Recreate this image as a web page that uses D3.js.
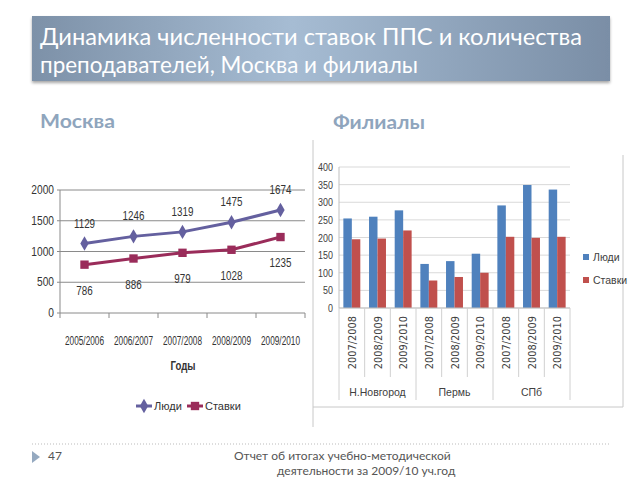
<!DOCTYPE html>
<html>
<head>
<meta charset="utf-8">
<script src="https://cdn.jsdelivr.net/npm/d3@7"></script>
<style>
body{margin:0;background:#fff}
svg{display:block}
.narrow{font-family:"Liberation Sans",Arial,sans-serif}
</style>
</head>
<body>
<div id="slide"></div>
<script>
// Москва
var years = ["2005/2006","2006/2007","2007/2008","2008/2009","2009/2010"]
var peopleMsk = [1129,1246,1319,1475,1674]
var ratesMsk = [786,886,979,1028,1235]
var mskTicks = [0,500,1000,1500,2000]

// Филиалы
var branchYears = ["2007/2008","2008/2009","2009/2010"]
var branches = ["Н.Новгород","Пермь","СПб"]
var peopleBr = [254,259,277, 125,133,154, 291,349,336]
var ratesBr = [195,197,220, 78,88,100, 202,199,202]
var brTicks = [0,50,100,150,200,250,300,350,400]

var seriesNames = ["Люди","Ставки"]

var svg = d3.select("#slide").append("svg").attr("width",640).attr("height",480)
var defs = svg.append("defs")

// title bar
var grad = defs.append("linearGradient").attr("id","bar").attr("x1","0").attr("x2","1").attr("y1","0").attr("y2","0")
grad.append("stop").attr("offset","0").attr("stop-color","#7d91a8")
grad.append("stop").attr("offset","0.45").attr("stop-color","#a6bcd3")
grad.append("stop").attr("offset","1").attr("stop-color","#7a8ea6")
var shadow = defs.append("filter").attr("id","shd").attr("x","-5%").attr("y","-10%").attr("width","110%").attr("height","140%")
shadow.append("feDropShadow").attr("dx",0).attr("dy",2).attr("stdDeviation",1.5).attr("flood-color","#000").attr("flood-opacity",0.35)

svg.append("rect").attr("x",32).attr("y",16).attr("width",578).attr("height",65)
    .attr("fill","url(#bar)").attr("filter","url(#shd)")
var titleLines = ["Динамика численности ставок ППС и количества","преподавателей, Москва и филиалы"]
var titleLen = [542,378]
svg.selectAll(".title").data(titleLines).enter().append("text")
    .attr("class","title")
    .attr("x",40).attr("y",function(d,i){return 45+i*28})
    .attr("fill","#fff").attr("font-family","Lato, 'Open Sans', sans-serif")
    .attr("font-size",23.5)
    .attr("textLength",function(d,i){return titleLen[i]}).attr("lengthAdjust","spacingAndGlyphs")
    .text(function(d){return d})

svg.append("text").attr("x",40).attr("y",128).text("Москва")
    .attr("fill","#8fa5bd").attr("font-weight","bold").attr("font-size",18.5)
    .attr("textLength",75).attr("lengthAdjust","spacingAndGlyphs")
    .attr("font-family","Lato, 'Open Sans', sans-serif")
svg.append("text").attr("x",333).attr("y",129).text("Филиалы")
    .attr("fill","#8fa5bd").attr("font-weight","bold").attr("font-size",18.5)
    .attr("textLength",92).attr("lengthAdjust","spacingAndGlyphs")
    .attr("font-family","Lato, 'Open Sans', sans-serif")

// ---------- left line chart ----------
var colPeople = "#64609f"
var colRates = "#9a2c5a"
var xL = d3.scaleBand().domain(years).range([60,305])
var yL = d3.scaleLinear().domain([0,2000]).range([313,190])
var gL = svg.append("g").attr("class","narrow")

gL.selectAll(".gridL").data(mskTicks).enter().append("line")
    .attr("x1",60).attr("x2",305)
    .attr("y1",function(d){return yL(d)}).attr("y2",function(d){return yL(d)})
    .attr("stroke","#8a8a8a").attr("stroke-width",1)
gL.append("line").attr("x1",60).attr("x2",60).attr("y1",190).attr("y2",313).attr("stroke","#8a8a8a")
gL.selectAll(".ytL").data(mskTicks).enter().append("line")
    .attr("x1",57).attr("x2",60)
    .attr("y1",function(d){return yL(d)}).attr("y2",function(d){return yL(d)})
    .attr("stroke","#8a8a8a")
gL.selectAll(".ylabL").data(mskTicks).enter().append("text")
    .attr("transform",function(d){return "translate(54,"+(yL(d)+4)+") scale(0.85,1)"})
    .attr("text-anchor","end").attr("font-size",12).attr("fill","#333")
    .text(function(d){return d})
gL.selectAll(".xtL").data(years.concat([""])).enter().append("line")
    .attr("x1",function(d,i){return 60+i*xL.step()}).attr("x2",function(d,i){return 60+i*xL.step()})
    .attr("y1",313).attr("y2",318).attr("stroke","#8a8a8a")
gL.selectAll(".xlabL").data(years).enter().append("text")
    .attr("transform",function(d){return "translate("+(xL(d)+xL.bandwidth()/2)+",345) scale(0.66,1)"})
    .attr("text-anchor","middle").attr("font-size",12.5).attr("fill","#333")
    .text(function(d){return d})
gL.append("text").attr("transform","translate(183,370) scale(0.8,1)").attr("text-anchor","middle")
    .attr("font-size",12).attr("font-weight","bold").attr("fill","#333").text("Годы")

var line = d3.line().x(function(d,i){return xL(years[i])+xL.bandwidth()/2}).y(function(d){return yL(d)})
gL.append("path").attr("d",line(peopleMsk)).attr("fill","none").attr("stroke",colPeople).attr("stroke-width",3)
gL.append("path").attr("d",line(ratesMsk)).attr("fill","none").attr("stroke",colRates).attr("stroke-width",3)

var diamond = d3.symbol().type(d3.symbolDiamond).size(60)
var square = d3.symbol().type(d3.symbolSquare).size(70)
gL.selectAll(".ptP").data(peopleMsk).enter().append("path")
    .attr("d",diamond).attr("fill",colPeople)
    .attr("transform",function(d,i){return "translate("+(xL(years[i])+xL.bandwidth()/2)+","+yL(d)+")"})
gL.selectAll(".ptR").data(ratesMsk).enter().append("path")
    .attr("d",square).attr("fill",colRates)
    .attr("transform",function(d,i){return "translate("+(xL(years[i])+xL.bandwidth()/2)+","+yL(d)+")"})
gL.selectAll(".lbP").data(peopleMsk).enter().append("text")
    .attr("transform",function(d,i){return "translate("+(xL(years[i])+xL.bandwidth()/2)+","+(yL(d)-16)+") scale(0.82,1)"})
    .attr("text-anchor","middle").attr("font-size",12).attr("fill","#333")
    .text(function(d){return d})
gL.selectAll(".lbR").data(ratesMsk).enter().append("text")
    .attr("transform",function(d,i){return "translate("+(xL(years[i])+xL.bandwidth()/2)+","+(yL(d)+30)+") scale(0.82,1)"})
    .attr("text-anchor","middle").attr("font-size",12).attr("fill","#333")
    .text(function(d){return d})

// legend left
var legL = gL.append("g").attr("transform","translate(136,406)")
legL.append("line").attr("x1",0).attr("x2",16).attr("stroke",colPeople).attr("stroke-width",3)
legL.append("path").attr("d",diamond).attr("fill",colPeople).attr("transform","translate(8,0)")
legL.append("text").attr("x",18).attr("y",4).attr("font-size",11).attr("fill","#333").text(seriesNames[0])
legL.append("line").attr("x1",51).attr("x2",67).attr("stroke",colRates).attr("stroke-width",3)
legL.append("path").attr("d",square).attr("fill",colRates).attr("transform","translate(59,0)")
legL.append("text").attr("x",69).attr("y",4).attr("font-size",11).attr("fill","#333").text(seriesNames[1])

// ---------- right bar chart ----------
var colBlue = "#4f81bd"
var colRed = "#c0504d"
var cats = d3.range(9)
var xR = d3.scaleBand().domain(cats).range([339,570])
var inner = d3.scaleBand().domain([0,1]).range([xR.bandwidth()*0.17,xR.bandwidth()*0.83])
var yR = d3.scaleLinear().domain([0,400]).range([308,167])
var gR = svg.append("g")

// frame
gR.append("path").attr("d","M313,140V427M313,407H623V155").attr("fill","none").attr("stroke","#c8c8c8")

gR.selectAll(".gridR").data(brTicks).enter().append("line")
    .attr("x1",339).attr("x2",570)
    .attr("y1",function(d){return yR(d)}).attr("y2",function(d){return yR(d)})
    .attr("stroke","#d9d9d9")
gR.append("line").attr("x1",339).attr("x2",339).attr("y1",167).attr("y2",308).attr("stroke","#bfbfbf")
gR.selectAll(".ylabR").data(brTicks).enter().append("text")
    .attr("class","narrow")
    .attr("transform",function(d){return "translate(333,"+(yR(d)+4)+") scale(0.85,1)"})
    .attr("text-anchor","end").attr("font-size",10.5).attr("fill","#404040")
    .text(function(d){return d})

gR.selectAll(".barP").data(peopleBr).enter().append("rect")
    .attr("x",function(d,i){return xR(i)+inner(0)}).attr("width",inner.bandwidth())
    .attr("y",function(d){return yR(d)}).attr("height",function(d){return yR(0)-yR(d)})
    .attr("fill",colBlue)
gR.selectAll(".barR").data(ratesBr).enter().append("rect")
    .attr("x",function(d,i){return xR(i)+inner(1)}).attr("width",inner.bandwidth())
    .attr("y",function(d){return yR(d)}).attr("height",function(d){return yR(0)-yR(d)})
    .attr("fill",colRed)

// category axis with two levels
gR.append("line").attr("x1",339).attr("x2",570).attr("y1",308).attr("y2",308).attr("stroke","#bfbfbf")
gR.selectAll(".sepR").data(d3.range(10)).enter().append("line")
    .attr("x1",function(d){return 339+d*xR.step()}).attr("x2",function(d){return 339+d*xR.step()})
    .attr("y1",308).attr("y2",function(d){return d%3==0 ? 400 : 377})
    .attr("stroke","#d0d0d0")
gR.selectAll(".xlabR").data(cats).enter().append("text")
    .attr("transform",function(d){return "translate("+(xR(d)+xR.bandwidth()/2+4)+",316) rotate(-90)"})
    .attr("text-anchor","end").attr("font-size",9.8).attr("fill","#404040")
    .attr("font-family","'DejaVu Sans',sans-serif")
    .text(function(d){return branchYears[d%3]})
gR.selectAll(".grpR").data(branches).enter().append("text")
    .attr("class","narrow")
    .attr("x",function(d,i){return 339+(i*3+1.5)*xR.step()}).attr("y",396)
    .attr("text-anchor","middle").attr("font-size",10.5).attr("fill","#404040")
    .text(function(d){return d})

// legend right
var legR = gR.selectAll(".legR").data(seriesNames).enter().append("g")
    .attr("transform",function(d,i){return "translate(583,"+(254+i*23)+")"})
legR.append("rect").attr("width",6).attr("height",6).attr("fill",function(d,i){return i==0?colBlue:colRed})
legR.append("text").attr("class","narrow").attr("x",10).attr("y",7).attr("font-size",10.5).attr("fill","#404040")
    .text(function(d){return d})

// footer
svg.append("line").attr("x1",32).attr("x2",610).attr("y1",444).attr("y2",444)
    .attr("stroke","#bbb").attr("stroke-dasharray","1,2")
svg.append("path").attr("d","M32,451L40,457L32,463Z").attr("fill","#95a9c0")
svg.append("text").attr("x",48).attr("y",460).attr("font-size",12).attr("fill","#555")
    .attr("font-family","Lato, 'Open Sans', sans-serif").text("47")
svg.append("text").attr("x",234).attr("y",460).attr("font-size",12).attr("fill","#555")
    .attr("font-family","Lato, 'Open Sans', sans-serif").text("Отчет об итогах учебно-методической")
svg.append("text").attr("x",277).attr("y",475).attr("font-size",12).attr("fill","#555")
    .attr("font-family","Lato, 'Open Sans', sans-serif").text("деятельности за 2009/10 уч.год")
</script>
</body>
</html>
